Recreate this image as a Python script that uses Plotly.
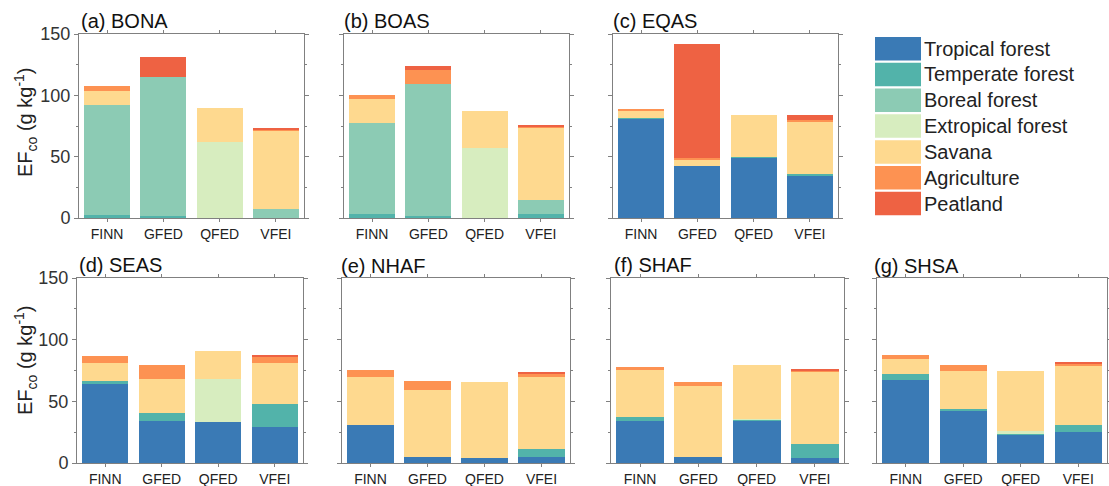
import plotly.graph_objects as go

# ---------------- data ----------------
products = ["FINN", "GFED", "QFED", "VFEI"]
regions = ["BONA", "BOAS", "EQAS", "SEAS", "NHAF", "SHAF", "SHSA"]
letters = ["a", "b", "c", "d", "e", "f", "g"]
land_types = ["Tropical forest", "Temperate forest", "Boreal forest",
              "Extropical forest", "Savana", "Agriculture", "Peatland"]
colors = ["#3a7ab5", "#52b3aa", "#8ccbb4", "#d7edbf", "#fed98f", "#fd9252", "#ee6243"]

# values per region (BONA, BOAS, EQAS, SEAS, NHAF, SHAF, SHSA), each for FINN, GFED, QFED, VFEI
tropical = [[0, 0, 0, 0], [0, 0, 0, 0], [81.3, 42.2, 49.5, 34.5], [63.9, 34.0, 32.9, 28.8],
            [31.2, 4.8, 4.3, 5.1], [33.7, 5.0, 34.5, 4.0], [67.7, 41.9, 22.8, 25.3]]
temperate = [[2.5, 1.5, 0, 0], [3.3, 1.4, 0, 3.5], [0.5, 0, 0.6, 1.4], [2.4, 6.2, 0, 19.3],
             [0, 0, 0, 6.5], [3.2, 0, 0.5, 11.7], [4.6, 1.9, 1.1, 5.9]]
boreal = [[89.3, 113.5, 0, 7.1], [73.9, 108.0, 0, 11.0], [0, 0, 0, 0], [0, 0, 0, 0],
          [0, 0, 0, 0], [0, 0, 0, 0], [0, 0, 0, 0]]
extropical = [[0, 0, 62.3, 0], [0, 0, 57.0, 0], [0, 0, 0, 0], [0, 0, 35.0, 0],
              [0, 0, 0, 0], [0, 0, 0.6, 0], [0, 0, 2.2, 0]]
savana = [[12.0, 0, 27.0, 64.2], [19.6, 0, 30.5, 59.1], [5.5, 5.4, 34.2, 42.9], [14.7, 28.3, 22.9, 32.9],
          [38.2, 54.6, 61.6, 57.8], [39.0, 57.8, 43.5, 58.3], [11.8, 30.4, 48.9, 47.8]]
agriculture = [[3.7, 0, 0, 0.5], [3.6, 11.1, 0, 1.1], [1.4, 1.1, 0, 1.2], [5.7, 10.8, 0, 5.1],
               [6.1, 7.0, 0, 3.2], [1.6, 2.7, 0, 0.6], [3.3, 5.1, 0, 1.4]]
peatland = [[0, 16.0, 0, 1.2], [0, 3.3, 0, 0.6], [0, 93.1, 0, 4.3], [0, 0, 0, 1.1],
            [0, 0, 0, 0.8], [0, 0, 0, 1.3], [0, 0, 0, 0.8]]

series = [tropical, temperate, boreal, extropical, savana, agriculture, peatland]

# ---------------- layout geometry (pixels) ----------------
W, H = 1109, 486
panel_px = [  # x0, x1, ytop, ybottom
    (79, 304, 34, 218), (344, 569, 34, 218), (613, 838, 34, 218),
    (77, 303, 278, 463), (342, 570, 278, 463), (611, 844, 278, 463), (877, 1107, 278, 463),
]
title_px = [(79, 21), (342, 21), (611, 21), (77, 265), (339, 266), (612, 265), (872, 266)]

FONT = "Liberation Sans, Arial, sans-serif"
AXC = "#808080"

fig = go.Figure()
for r in range(len(regions)):
    xa = "x" if r == 0 else f"x{r+1}"
    ya = "y" if r == 0 else f"y{r+1}"
    for k, lt in enumerate(land_types):
        fig.add_trace(go.Bar(
            x=products, y=series[k][r], name=lt,
            marker=dict(color=colors[k], line=dict(width=0)),
            xaxis=xa, yaxis=ya, showlegend=False,
        ))

layout = dict(
    width=W, height=H, barmode="stack", bargap=0.18,
    margin=dict(l=0, r=0, t=0, b=0, pad=0, autoexpand=False),
    paper_bgcolor="white", plot_bgcolor="white",
    font=dict(family=FONT, color="#222"),
    showlegend=False,
)

annotations = []
shapes = []
for r in range(len(regions)):
    x0, x1, yt, yb = panel_px[r]
    sx = "" if r == 0 else str(r + 1)
    layout[f"xaxis{sx}"] = dict(
        domain=[x0 / W, x1 / W], anchor=f"y{sx}", type="category", automargin=False,
        range=[-0.5, 3.5], showline=True, linecolor=AXC, linewidth=1,
        mirror="allticks", ticks="outside", ticklen=3, tickcolor=AXC,
        tickfont=dict(size=14, color="#222", family=FONT), showgrid=False,
    )
    layout[f"yaxis{sx}"] = dict(
        domain=[1 - yb / H, 1 - yt / H], anchor=f"x{sx}", range=[0, 150], automargin=False,
        tickvals=[0, 50, 100, 150], showline=True, linecolor=AXC, linewidth=1,
        mirror="allticks", ticks="outside", ticklen=4, tickcolor=AXC,
        minor=dict(dtick=25, ticks="outside", ticklen=2, tickcolor=AXC),
        showticklabels=(r in (0, 3)),
        tickfont=dict(size=18, color="#333", family=FONT), showgrid=False, zeroline=False,
    )
    tx, ty = title_px[r]
    annotations.append(dict(
        text=f"({letters[r]}) {regions[r]}", x=tx / W, y=1 - ty / H,
        xref="paper", yref="paper", xanchor="left", yanchor="middle",
        showarrow=False, font=dict(size=20, color="#111", family=FONT),
    ))

# y-axis titles
for yc in (122, 360):
    annotations.append(dict(
        text="EF<sub>co</sub> (g kg<sup>-1</sup>)", x=25 / W, y=1 - yc / H,
        xref="paper", yref="paper", xanchor="center", yanchor="middle",
        textangle=-90, showarrow=False, font=dict(size=20, color="#222", family=FONT),
    ))

# legend (drawn as swatches + labels)
lg_x0, lg_x1, lg_y0, lg_step, lg_h = 875, 921, 48.7, 25.8, 23.5
for k, lt in enumerate(land_types):
    yc = lg_y0 + k * lg_step
    shapes.append(dict(
        type="rect", xref="paper", yref="paper",
        x0=lg_x0 / W, x1=lg_x1 / W, y0=1 - (yc + lg_h / 2) / H, y1=1 - (yc - lg_h / 2) / H,
        fillcolor=colors[k], line=dict(width=0),
    ))
    annotations.append(dict(
        text=lt, x=(lg_x1 + 1) / W, y=1 - yc / H, xref="paper", yref="paper",
        xanchor="left", yanchor="middle", showarrow=False,
        font=dict(size=20, color="#222", family=FONT),
    ))

layout["annotations"] = annotations
layout["shapes"] = shapes
fig.update_layout(**layout)

page_fix = (
    "var d=document.getElementById('{plot_id}');"
    "d.style.position='fixed';d.style.left='0px';d.style.top='0px';"
    "document.documentElement.style.margin='0px';"
    "document.body.style.margin='0px';document.body.style.overflow='hidden';"
    "document.body.style.height='486px';"
)
fig.write_html("out.html", config={"displayModeBar": False}, post_script=page_fix)
